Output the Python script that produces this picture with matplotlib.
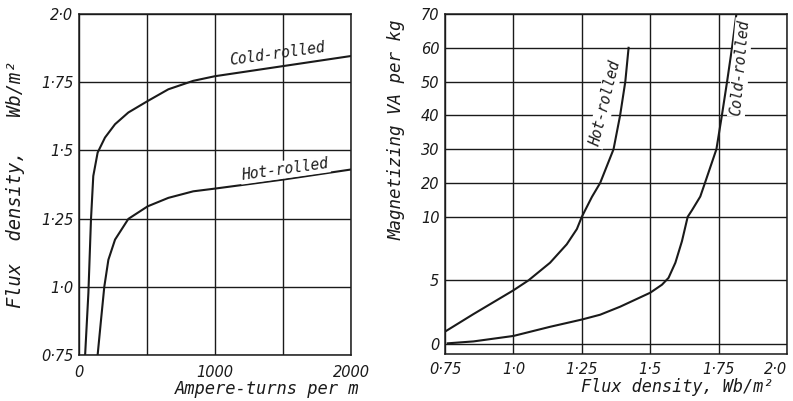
import numpy as np
import matplotlib.pyplot as plt

# left panel: B-H curves (ampere-turns per m, Wb/m2)
at_cold = [45, 69, 88, 105, 137, 191, 265, 363, 505, 657, 840, 1000, 1500, 2000]
b_cold = [0.75, 0.977, 1.246, 1.406, 1.492, 1.547, 1.596, 1.639, 1.681, 1.724, 1.755, 1.772, 1.809, 1.846]
at_hot = [137, 162, 186, 216, 265, 363, 505, 657, 840, 1000, 1500, 2000]
b_hot = [0.75, 0.879, 1.0, 1.099, 1.173, 1.249, 1.295, 1.326, 1.350, 1.36, 1.393, 1.43]

# right panel: magnetizing VA per kg vs flux density
b_hot_va = [0.75, 0.854, 1.0, 1.055, 1.134, 1.195, 1.232, 1.25, 1.287, 1.317, 1.366, 1.390, 1.409, 1.421]
va_hot = [0.97, 2.35, 4.22, 5.0, 6.39, 7.84, 9.04, 10.0, 15.9, 20.0, 30.0, 40.0, 50.0, 60.0]
b_cold_va = [0.76, 0.854, 1.0, 1.134, 1.25, 1.317, 1.39, 1.5, 1.543, 1.567, 1.592, 1.616, 1.637,
             1.653, 1.683, 1.700, 1.742, 1.762, 1.781, 1.799, 1.815]
va_cold = [0.05, 0.2, 0.63, 1.35, 1.92, 2.3, 2.93, 4.03, 4.66, 5.2, 6.39, 8.08, 10.0,
           12.0, 16.0, 20.0, 30.0, 40.0, 50.0, 60.0, 70.0]

left_yticks = [0.75, 1.0, 1.25, 1.5, 1.75, 2.0]
left_ylabels = ["0·75", "1·0", "1·25", "1·5", "1·75", "2·0"]
left_xticks = [0, 500, 1000, 1500, 2000]
left_xlabels = ["0", "", "1000", "", "2000"]
right_xticks = [0.75, 1.0, 1.25, 1.5, 1.75, 2.0]
right_xlabels = ["0·75", "1·0", "1·25", "1·5", "1·75", "2·0"]
right_yticks = [0, 5, 10, 20, 30, 40, 50, 60, 70]

ink = "#1a1a1a"
plt.rcParams["font.family"] = "DejaVu Sans"
plt.rcParams["font.style"] = "italic"
lab = dict(family="DejaVu Sans Mono", style="italic", color=ink)

fig = plt.figure(figsize=(7.93, 4.01), dpi=100)
W, H = 793, 401

# ---- left
ax1 = fig.add_axes([79 / W, 1 - 355 / H, 272 / W, 341 / H])
ax1.plot(at_cold, b_cold, color=ink, lw=1.5)
ax1.plot(at_hot, b_hot, color=ink, lw=1.5)
ax1.set_xlim(0, 2000)
ax1.set_ylim(0.75, 2.0)
ax1.set_xticks(left_xticks)
ax1.set_xticklabels(left_xlabels)
ax1.set_yticks(left_yticks)
ax1.set_yticklabels(left_ylabels)
ax1.grid(True, color=ink, lw=1.0)
ax1.tick_params(length=0, labelsize=10.5, colors=ink, pad=4)
ax1.tick_params(axis="x", pad=7)
for s in ax1.spines.values():
    s.set_color(ink)
    s.set_linewidth(1.1)
ax1.set_ylabel("Flux  density,   Wb/m²", fontsize=13.5, **lab)
ax1.yaxis.set_label_coords(-0.2, 0.5)
ax1.set_xlabel("Ampere-turns per m", fontsize=12.3, **lab)
ax1.xaxis.set_label_coords(0.69, -0.072)
ax1.text(1455, 1.853, "Cold-rolled", fontsize=10.5, rotation=8, ha="center", va="center", **lab)
ax1.text(1514, 1.43, "Hot-rolled", fontsize=10.5, rotation=8, ha="center", va="center", **lab,
         bbox=dict(fc="white", ec="none", pad=1))


# ---- right, broken scale: 0-10 stretched
k = 3.76


def fwd(y):
    y = np.asarray(y, float)
    return np.where(y <= 10, y * k, 10 * k + (y - 10))


def inv(t):
    t = np.asarray(t, float)
    return np.where(t <= 10 * k, t / k, t - 10 * k + 10)


ax2 = fig.add_axes([445 / W, 1 - 354 / H, 342 / W, 340 / H])
ax2.set_yscale("function", functions=(fwd, inv))
ax2.plot(b_hot_va, va_hot, color=ink, lw=1.5)
ax2.plot(b_cold_va, va_cold, color=ink, lw=1.5)
ax2.set_xlim(0.75, 2.0)
ax2.set_ylim(-0.79, 70)
ax2.set_xticks(right_xticks)
ax2.set_xticklabels(right_xlabels)
ax2.get_xticklabels()[-1].set_ha("right")
ax2.set_yticks(right_yticks)
ax2.set_yticklabels([str(v) for v in right_yticks])
ax2.grid(True, color=ink, lw=1.0)
ax2.tick_params(length=0, labelsize=10.5, colors=ink, pad=4)
ax2.tick_params(axis="x", pad=6)
for s in ax2.spines.values():
    s.set_color(ink)
    s.set_linewidth(1.1)
ax2.set_ylabel("Magnetizing VA per kg", fontsize=12.6, **lab)
ax2.yaxis.set_label_coords(-0.115, 0.66)
ax2.set_xlabel("Flux density, Wb/m²", fontsize=12.2, **lab)
ax2.xaxis.set_label_coords(0.68, -0.072)
ax2.text(1.335, 43.5, "Hot-rolled", fontsize=10.5, rotation=76, ha="center", va="center", **lab,
         bbox=dict(fc="white", ec="none", pad=1))
ax2.text(1.829, 54.2, "Cold-rolled", fontsize=10.5, rotation=85, ha="center", va="center", **lab,
         bbox=dict(fc="white", ec="none", pad=1))

fig.savefig("out.png", dpi=100)
